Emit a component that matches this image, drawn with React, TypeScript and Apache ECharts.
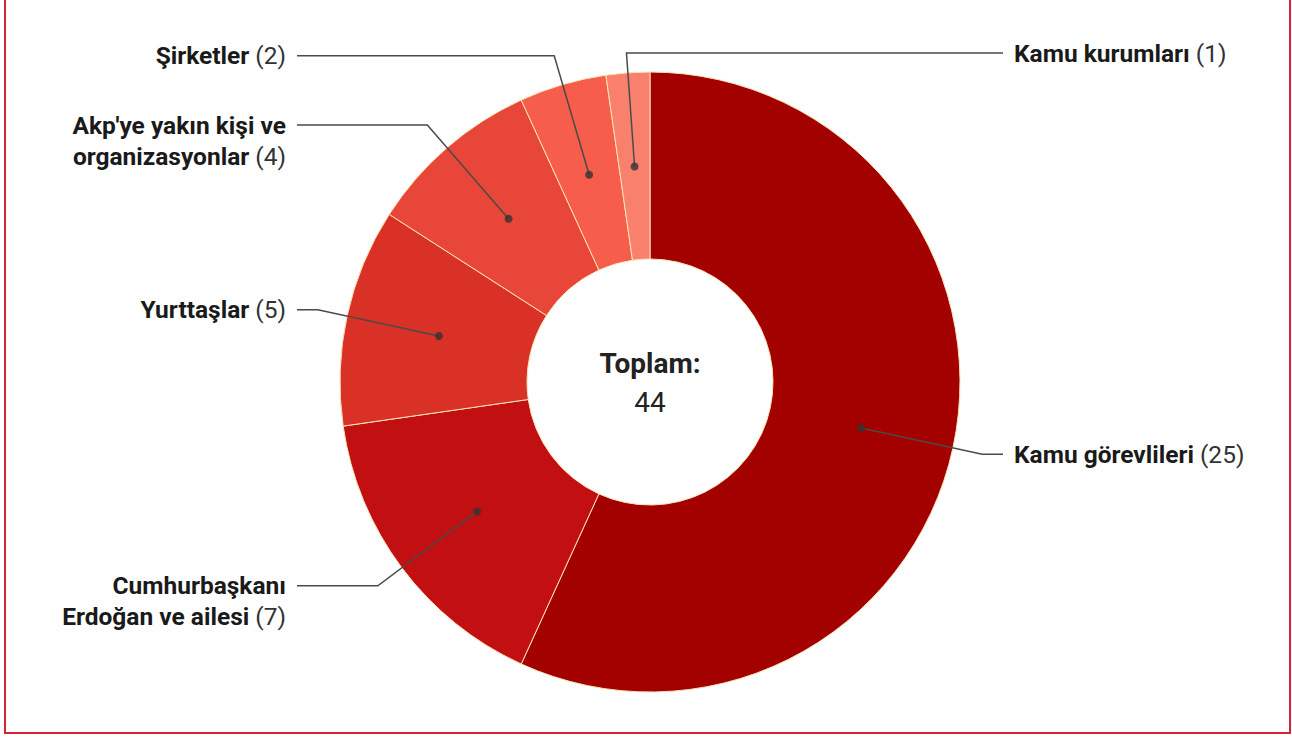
import React, { useEffect, useRef } from 'react';
import * as echarts from 'echarts';

// ---- data ----
const categories = [
  'Kamu görevlileri',
  'Cumhurbaşkanı\nErdoğan ve ailesi',
  'Yurttaşlar',
  "Akp'ye yakın kişi ve\norganizasyonlar",
  'Şirketler',
  'Kamu kurumları',
];
const values = [25, 7, 5, 4, 2, 1];
const sliceColors = ['#a30000', '#c20f12', '#d93126', '#e9463a', '#f65d4a', '#fa806e'];
const centerLabel = 'Toplam:';

// ---- layout / style constants ----
const CX = 650;
const CY = 382;
const R_IN = 123;
const R_OUT = 310;
const R_DOT = 216;
const LINE_LEN = 124;
const TOP_Y = 53;
const LEFT_END = 297;
const RIGHT_END = 1003;
const LABEL_GAP = 11;
const FONT = 'Roboto';
const FS = 24.5;
const LH = 31;
const rightSide = [true, false, false, false, false, true];

export default function App() {
  const ref = useRef<HTMLDivElement>(null);

  useEffect(() => {
    if (!ref.current) return;
    const chart = echarts.init(ref.current, undefined, { renderer: 'svg' });

    const total = values.reduce((a, b) => a + b, 0);
    const mids: number[] = [];
    let acc = 0;
    values.forEach((v) => {
      mids.push(acc + v / 2);
      acc += v;
    });

    const pieData = categories.map((name, i) => ({
      name,
      value: values[i],
      itemStyle: { color: sliceColors[i] },
    }));

    const formatter = (p: any) => {
      const lines = String(p.name).split('\n');
      return lines
        .map((l, i) => (i === lines.length - 1 ? `{b|${l}}{c| (${p.value})}` : `{b|${l}}`))
        .join('\n');
    };

    chart.setOption({
      animation: false,
      backgroundColor: '#ffffff',
      polar: { center: [CX, CY], radius: R_OUT },
      angleAxis: {
        type: 'value',
        min: 0,
        max: total,
        startAngle: 90,
        clockwise: true,
        show: false,
      },
      radiusAxis: { type: 'value', min: 0, max: R_OUT, show: false },
      graphic: [
        {
          type: 'rect',
          shape: { x: 5, y: -10, width: 1285, height: 743 },
          style: { fill: 'none', stroke: '#d32533', lineWidth: 2 },
          z: 100,
        },
        {
          type: 'text',
          x: CX,
          y: CY - 19,
          style: {
            text: centerLabel,
            fill: '#222',
            font: `bold 28px ${FONT}`,
            textAlign: 'center',
            textVerticalAlign: 'middle',
          },
          z: 100,
        },
        {
          type: 'text',
          x: CX,
          y: CY + 20,
          style: {
            text: String(total),
            fill: '#222',
            font: `28px ${FONT}`,
            textAlign: 'center',
            textVerticalAlign: 'middle',
          },
          z: 100,
        },
      ],
      series: [
        {
          type: 'pie',
          z: 2,
          silent: true,
          center: [CX, CY],
          radius: [R_IN, R_OUT],
          startAngle: 90,
          clockwise: true,
          label: { show: false },
          labelLine: { show: false },
          itemStyle: { borderColor: '#fbe4b8', borderWidth: 1 },
          emphasis: { disabled: true },
          data: pieData,
        },
        {
          type: 'pie',
          z: 3,
          silent: true,
          center: [CX, CY],
          radius: [0, R_DOT],
          startAngle: 90,
          clockwise: true,
          avoidLabelOverlap: false,
          itemStyle: { color: 'rgba(0,0,0,0)', borderWidth: 0 },
          emphasis: { disabled: true },
          label: {
            show: true,
            position: 'outside',
            formatter,
            rich: {
              b: {
                fontFamily: FONT,
                fontWeight: 'bold',
                fontSize: FS,
                lineHeight: LH,
                color: '#1a1a1a',
                align: 'right',
              },
              c: {
                fontFamily: FONT,
                fontSize: FS,
                lineHeight: LH,
                color: '#333',
                align: 'right',
              },
            },
          },
          labelLine: {
            show: true,
            length: LINE_LEN,
            length2: 10,
            smooth: false,
            lineStyle: { color: '#4a4a4a', width: 1.5 },
          },
          labelLayout: (p: any) => {
            if (p.seriesIndex !== 1 || !p.labelLinePoints) return {};
            const pts = p.labelLinePoints;
            const right = rightSide[p.dataIndex];
            const x0 = pts[0][0];
            const y0 = pts[0][1];
            let x1 = pts[1][0];
            let y1 = pts[1][1];
            if (y1 < TOP_Y) {
              const t = (y0 - TOP_Y) / (y0 - y1);
              x1 = x0 + (x1 - x0) * t;
              y1 = TOP_Y;
            }
            const endX = right ? RIGHT_END : LEFT_END;
            return {
              x: right ? endX + LABEL_GAP : endX - LABEL_GAP,
              y: y1 - LH / 2,
              align: right ? 'left' : 'right',
              verticalAlign: 'top',
              labelLinePoints: [
                [x0, y0],
                [x1, y1],
                [endX, y1],
              ],
            };
          },
          data: categories.map((name, i) => ({ name, value: values[i] })),
        },
        {
          type: 'scatter',
          coordinateSystem: 'polar',
          z: 4,
          silent: true,
          symbol: 'circle',
          symbolSize: 8,
          itemStyle: { color: '#333' },
          data: mids.map((m) => [R_DOT, m]),
        },
      ],
    });

    return () => chart.dispose();
  }, []);

  return (
    <div
      ref={ref}
      style={{ position: 'fixed', left: 0, top: 0, width: 1292, height: 737 }}
    />
  );
}
